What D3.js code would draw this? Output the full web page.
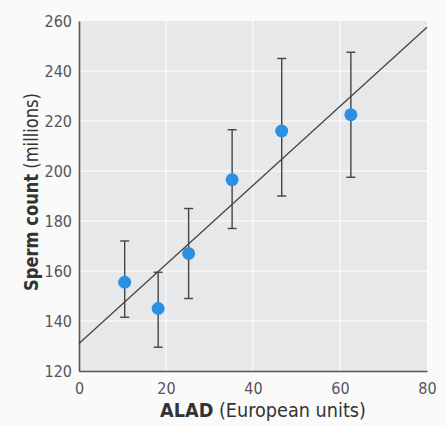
<!DOCTYPE html>
<html>
<head>
<meta charset="utf-8">
<script src="https://cdn.jsdelivr.net/npm/d3@7"></script>
<style>
  body { margin: 0; background: #fafafa; }
  svg text { font-family: "Liberation Sans Narrow", "DejaVu Sans Condensed", "Roboto Condensed", sans-serif; }
</style>
</head>
<body>
<div id="chart"></div>
<script>
// ALAD (European units) vs sperm count (millions)
const alad = [10.5, 18.2, 25.2, 35.2, 46.6, 62.5];
const sperm = [155.5, 145, 167, 196.5, 216, 222.5];
const errLow = [141.5, 129.5, 149, 177, 190, 197.5];
const errHigh = [172, 159.5, 185, 216.5, 245, 247.5];
const fitLine = [[0, 131], [80, 257.5]];
const xTicks = [0, 20, 40, 60, 80];
const yTicks = [120, 140, 160, 180, 200, 220, 240, 260];

const W = 445, H = 426;
const margin = { left: 79, right: 18, top: 21, bottom: 55 };

const svg = d3.select("#chart").append("svg")
    .attr("width", W)
    .attr("height", H);

const x = d3.scaleLinear().domain([0, 80]).range([margin.left, W - margin.right]);
const y = d3.scaleLinear().domain([120, 260]).range([H - margin.bottom, margin.top]);

// plot background
svg.append("rect")
    .attr("x", x(0)).attr("y", y(260))
    .attr("width", x(80) - x(0)).attr("height", y(120) - y(260))
    .attr("fill", "#e7e8ea");

// grid
svg.append("g").selectAll("line")
    .data(xTicks.slice(1, -1))
  .enter().append("line")
    .attr("x1", d => x(d)).attr("x2", d => x(d))
    .attr("y1", y(120)).attr("y2", y(260))
    .attr("stroke", "#fff").attr("stroke-width", 1);
svg.append("g").selectAll("line")
    .data(yTicks.slice(1, -1))
  .enter().append("line")
    .attr("y1", d => y(d)).attr("y2", d => y(d))
    .attr("x1", x(0)).attr("x2", x(80))
    .attr("stroke", "#fff").attr("stroke-width", 1);

// axes
const xAxis = svg.append("g")
    .attr("transform", `translate(0,${y(120)})`)
    .call(d3.axisBottom(x).tickValues(xTicks).tickSize(0).tickPadding(12));
const yAxis = svg.append("g")
    .attr("transform", `translate(${x(0)},0)`)
    .call(d3.axisLeft(y).tickValues(yTicks).tickSize(0).tickPadding(7));
[xAxis, yAxis].forEach(g => {
  g.select(".domain").attr("stroke", "#555").attr("stroke-width", 1.6);
  g.selectAll("text").attr("fill", "#555").style("font-size", "16px");
});

// regression line
svg.append("line")
    .attr("x1", x(fitLine[0][0])).attr("y1", y(fitLine[0][1]))
    .attr("x2", x(fitLine[1][0])).attr("y2", y(fitLine[1][1]))
    .attr("stroke", "#444").attr("stroke-width", 1.3);

// error bars
const eb = svg.append("g").attr("stroke", "#444").attr("stroke-width", 1.4);
alad.forEach((a, i) => {
  eb.append("line").attr("x1", x(a)).attr("x2", x(a))
      .attr("y1", y(errLow[i])).attr("y2", y(errHigh[i]));
  eb.append("line").attr("x1", x(a) - 4.5).attr("x2", x(a) + 4.5)
      .attr("y1", y(errLow[i])).attr("y2", y(errLow[i]));
  eb.append("line").attr("x1", x(a) - 4.5).attr("x2", x(a) + 4.5)
      .attr("y1", y(errHigh[i])).attr("y2", y(errHigh[i]));
});

// points
svg.append("g").selectAll("circle")
    .data(alad)
  .enter().append("circle")
    .attr("cx", d => x(d))
    .attr("cy", (d, i) => y(sperm[i]))
    .attr("r", 6.5)
    .attr("fill", "#2b8fe2");

// axis titles: condensed like the print by squeezing horizontally
const title = (pos, bold, rest, len) => {
  const g = svg.append("g").attr("transform", pos);
  const t = g.append("text")
      .attr("text-anchor", "middle")
      .attr("fill", "#333")
      .style("font-size", "20px");
  t.append("tspan").attr("font-weight", "bold").text(bold);
  t.append("tspan").text(rest);
  const k = len / t.node().getComputedTextLength();
  t.attr("transform", `scale(${k},1)`);
};
title("translate(263,417)", "ALAD", " (European units)", 206);
title("translate(38,192) rotate(-90)", "Sperm count", " (millions)", 198);
</script>
</body>
</html>
